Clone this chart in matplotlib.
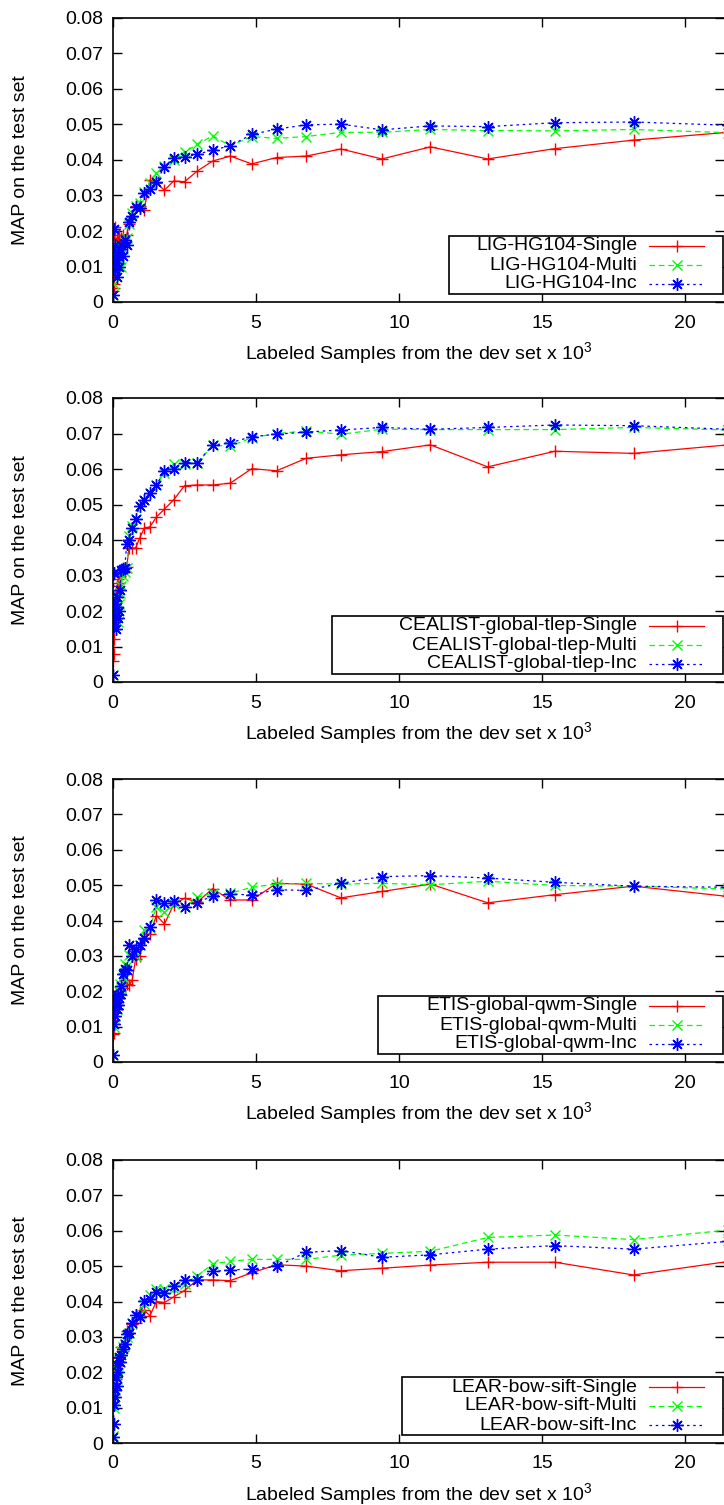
import matplotlib
matplotlib.use("Agg")
import matplotlib.pyplot as plt
from matplotlib.ticker import FixedLocator, FuncFormatter
from matplotlib.patches import Rectangle
from matplotlib.lines import Line2D

plt.rcParams['font.family'] = ['Liberation Sans', 'DejaVu Sans']
plt.rcParams['mathtext.fontset'] = 'custom'
plt.rcParams['mathtext.rm'] = 'Liberation Sans'
plt.rcParams['mathtext.it'] = 'Liberation Sans'

# Labeled samples (x 10^3), shared by all runs
x_samples = [0, 0.02, 0.04, 0.06, 0.08, 0.1, 0.13, 0.15, 0.18, 0.21, 0.25, 0.29, 0.34,
             0.41, 0.48, 0.56, 0.67, 0.79, 0.93, 1.09, 1.29, 1.52, 1.8, 2.12, 2.5, 2.95,
             3.48, 4.1, 4.85, 5.72, 6.75, 7.97, 9.4, 11.1, 13.1, 15.45, 18.2, 21.5]

# Panel 1: LIG-HG104
lig_single = [0.003, 0.004, 0.005, 0.021, 0.012, 0.016, 0.018, 0.014, 0.017, 0.019, 0.016, 0.018, 0.019,
              0.017, 0.019, 0.022, 0.024, 0.027, 0.027, 0.026, 0.0344, 0.0334, 0.0315, 0.0341, 0.0339, 0.0369,
              0.0397, 0.0411, 0.0389, 0.0407, 0.0411, 0.0431, 0.0403, 0.0437, 0.0403, 0.0432, 0.0456, 0.0478]
lig_multi = [0.002, 0.005, 0.008, 0.012, 0.010, 0.014, 0.011, 0.015, 0.013, 0.016, 0.012, 0.010, 0.015,
             0.017, 0.018, 0.022, 0.025, 0.027, 0.028, 0.031, 0.0335, 0.0362, 0.0384, 0.0400, 0.0423, 0.0444,
             0.0468, 0.0440, 0.0466, 0.0461, 0.0466, 0.0478, 0.0478, 0.0486, 0.0483, 0.0482, 0.0486, 0.0477]
lig_inc = [0.002, 0.0205, 0.012, 0.009, 0.016, 0.011, 0.014, 0.007, 0.013, 0.010, 0.015, 0.016, 0.013,
           0.0175, 0.016, 0.0226, 0.0242, 0.0268, 0.0266, 0.0308, 0.0317, 0.0339, 0.0381, 0.0405, 0.0409, 0.0416,
           0.0428, 0.0440, 0.0472, 0.0487, 0.0499, 0.0501, 0.0485, 0.0496, 0.0494, 0.0505, 0.0507, 0.0498]

# Panel 2: CEALIST-global-tlep
cea_single = [0.006, 0.008, 0.012, 0.018, 0.022, 0.025, 0.027, 0.024, 0.029, 0.028, 0.030, 0.031, 0.032,
              0.031, 0.0325, 0.0377, 0.0377, 0.0377, 0.0405, 0.0433, 0.0437, 0.0465, 0.0487, 0.0513, 0.0553, 0.0555,
              0.0555, 0.0560, 0.0601, 0.0595, 0.0630, 0.0640, 0.0649, 0.0668, 0.0606, 0.0650, 0.0644, 0.0668]
cea_multi = [0.002, 0.018, 0.022, 0.016, 0.020, 0.024, 0.019, 0.021, 0.017, 0.022, 0.025, 0.027, 0.030,
             0.031, 0.032, 0.0412, 0.0440, 0.0460, 0.0496, 0.0514, 0.0533, 0.0555, 0.0590, 0.0614, 0.0615, 0.0617,
             0.0667, 0.0664, 0.0688, 0.0700, 0.0707, 0.0698, 0.0712, 0.0711, 0.0711, 0.0711, 0.0717, 0.0710]
cea_inc = [0.002, 0.0306, 0.017, 0.022, 0.019, 0.015, 0.021, 0.024, 0.018, 0.020, 0.026, 0.0315, 0.0317,
           0.0320, 0.0390, 0.0400, 0.0435, 0.0460, 0.0496, 0.0514, 0.0533, 0.0555, 0.0595, 0.0600, 0.0618, 0.0618,
           0.0667, 0.0674, 0.0691, 0.0698, 0.0704, 0.0710, 0.0717, 0.0712, 0.0717, 0.0724, 0.0722, 0.0712]

# Panel 3: ETIS-global-qwm
etis_single = [0.008, 0.0081, 0.012, 0.016, 0.0186, 0.015, 0.017, 0.019, 0.016, 0.018, 0.020, 0.019, 0.021,
               0.0231, 0.022, 0.0217, 0.0231, 0.0292, 0.0300, 0.0348, 0.0362, 0.0414, 0.0390, 0.0445, 0.0463, 0.0452,
               0.0490, 0.0458, 0.0458, 0.0505, 0.0503, 0.0464, 0.0482, 0.0503, 0.0450, 0.0473, 0.0497, 0.0468]
etis_multi = [0.002, 0.010, 0.014, 0.017, 0.013, 0.016, 0.019, 0.015, 0.018, 0.020, 0.022, 0.021, 0.024,
              0.0278, 0.027, 0.0303, 0.0300, 0.0301, 0.0330, 0.0372, 0.0378, 0.0438, 0.0423, 0.0446, 0.0438, 0.0466,
              0.0477, 0.0477, 0.0494, 0.0503, 0.0505, 0.0503, 0.0505, 0.0501, 0.0511, 0.0499, 0.0497, 0.0489]
etis_inc = [0.002, 0.0107, 0.0156, 0.0184, 0.013, 0.017, 0.015, 0.019, 0.016, 0.018, 0.0193, 0.0214, 0.025,
            0.0264, 0.026, 0.0330, 0.0301, 0.0320, 0.0330, 0.0351, 0.0381, 0.0458, 0.0449, 0.0454, 0.0438, 0.0450,
            0.0470, 0.0475, 0.0472, 0.0487, 0.0485, 0.0505, 0.0524, 0.0527, 0.0520, 0.0508, 0.0497, 0.0494]

# Panel 4: LEAR-bow-sift
lear_single = [0.013, 0.015, 0.017, 0.019, 0.021, 0.018, 0.022, 0.020, 0.024, 0.023, 0.025, 0.027, 0.026,
               0.028, 0.0318, 0.031, 0.0336, 0.034, 0.037, 0.0375, 0.0360, 0.0400, 0.0397, 0.0413, 0.0431, 0.0461,
               0.0461, 0.0459, 0.0481, 0.0504, 0.0500, 0.0487, 0.0494, 0.0503, 0.0511, 0.0511, 0.0475, 0.0513]
lear_multi = [0.002, 0.010, 0.014, 0.017, 0.015, 0.019, 0.021, 0.018, 0.022, 0.024, 0.023, 0.026, 0.027,
              0.028, 0.030, 0.031, 0.034, 0.036, 0.0365, 0.0394, 0.0417, 0.0436, 0.0436, 0.0436, 0.0450, 0.0473,
              0.0506, 0.0514, 0.0519, 0.0519, 0.0519, 0.0531, 0.0536, 0.0542, 0.0581, 0.0588, 0.0575, 0.0602]
lear_inc = [0.0018, 0.0055, 0.0107, 0.0149, 0.013, 0.0187, 0.016, 0.022, 0.020, 0.0243, 0.023, 0.025, 0.0267,
            0.0281, 0.0307, 0.031, 0.0339, 0.0363, 0.0356, 0.0401, 0.0408, 0.0428, 0.0423, 0.0443, 0.0461, 0.0461,
            0.0485, 0.0489, 0.0492, 0.0499, 0.0539, 0.0544, 0.0525, 0.0532, 0.0548, 0.0558, 0.0548, 0.0570]

run_names = ["LIG-HG104", "CEALIST-global-tlep", "ETIS-global-qwm", "LEAR-bow-sift"]
panel_series = [
    (lig_single, lig_multi, lig_inc),
    (cea_single, cea_multi, cea_inc),
    (etis_single, etis_multi, etis_inc),
    (lear_single, lear_multi, lear_inc),
]
variant_names = ["Single", "Multi", "Inc"]
x_ticks = [0, 5, 10, 15, 20]
y_ticks = [0, 0.01, 0.02, 0.03, 0.04, 0.05, 0.06, 0.07, 0.08]

W, H = 724, 1505
fig = plt.figure(figsize=(W / 100, H / 100), dpi=100)

panel_px = [(18, 302), (398, 682), (779, 1062), (1160, 1443)]
legend_left_px = [449, 332, 378, 402]
left_px, right_px = 113, 724

styles = [
    dict(color='#ff0000', linestyle='-', marker='+', markersize=9, markeredgewidth=1.0),
    dict(color='#00ff00', linestyle=(0, (4.5, 3)), marker='x', markersize=7, markeredgewidth=1.0),
    dict(color='#0000ff', linestyle=(0, (2, 3)), marker=(8, 2, 0), markersize=9, markeredgewidth=1.0),
]


def fx(px):
    return px / W


def fy(py):
    return 1 - py / H


FS = 14
for (top, bot), name, series, lg_left in zip(panel_px, run_names, panel_series, legend_left_px):
    ax = fig.add_axes([left_px / W, 1 - bot / H, (right_px - left_px) / W, (bot - top) / H])
    for ys, vname, st in zip(series, variant_names, styles):
        ax.plot(x_samples, ys, linewidth=0.9, **st)
    ax.set_xlim(0, (right_px - left_px) / 28.6)
    ax.set_ylim(0, 0.08)
    ax.xaxis.set_major_locator(FixedLocator(x_ticks))
    ax.yaxis.set_major_locator(FixedLocator(y_ticks))
    ax.xaxis.set_major_formatter(FuncFormatter(lambda v, p: f"{v:g}"))
    ax.yaxis.set_major_formatter(FuncFormatter(lambda v, p: "0" if v == 0 else f"{v:.2f}"))
    ax.tick_params(direction='in', length=6.5, width=1.0, top=True, right=True,
                   labelsize=FS, colors='black')
    ax.tick_params(axis='x', pad=9)
    ax.tick_params(axis='y', pad=7)
    for s in ax.spines.values():
        s.set_linewidth(1.2)
    ax.spines['right'].set_visible(False)
    ax.set_xlabel(r"Labeled Samples from the dev set x 10$^{3}$", fontsize=FS, labelpad=6)
    ax.set_ylabel("MAP on the test set", fontsize=FS)
    ax.yaxis.set_label_coords(-(left_px - 29) / (right_px - left_px), 0.5)

    # key box (gnuplot style: text right-aligned, sample on the right)
    box_top, box_bot, box_right = bot - 66, bot - 8.5, 723
    fig.add_artist(Rectangle((fx(lg_left), fy(box_bot)), fx(box_right) - fx(lg_left),
                             fy(box_top) - fy(box_bot), transform=fig.transFigure,
                             facecolor='white', edgecolor='black', linewidth=1.2, zorder=5))
    for i, (vname, st) in enumerate(zip(variant_names, styles)):
        ry = bot - 56 + 19 * i
        fig.text(fx(637), fy(ry), f"{name}-{vname}", ha='right', va='center',
                 fontsize=FS, zorder=6)
        fig.add_artist(Line2D([fx(649), fx(704)], [fy(ry), fy(ry)], transform=fig.transFigure,
                              color=st['color'], linestyle=st['linestyle'], linewidth=0.9, zorder=6))
        fig.add_artist(Line2D([fx(677)], [fy(ry)], transform=fig.transFigure, linestyle='none',
                              color=st['color'], marker=st['marker'], markersize=st['markersize'],
                              markeredgewidth=st['markeredgewidth'], zorder=6))

fig.savefig("out.png", dpi=100)
